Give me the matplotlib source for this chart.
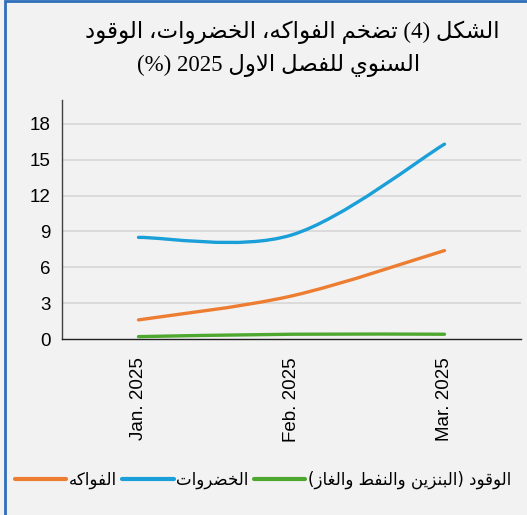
import re
import numpy as np
import matplotlib
matplotlib.use('Agg')
import matplotlib.pyplot as plt
from matplotlib.patches import Rectangle
from matplotlib.path import Path
from matplotlib.patches import PathPatch
from matplotlib.lines import Line2D

months = ['Jan. 2025', 'Feb. 2025', 'Mar. 2025']
fruits = [1.6, 3.6, 7.4]
vegetables = [8.5, 8.7, 16.3]
fuel = [0.2, 0.4, 0.4]
names = ['الفواكه', 'الخضروات', 'الوقود (البنزين والنفط والغاز)']
colors = ['#ED7D31', '#1A9FD9', '#4EA72E']
yticks = [0, 3, 6, 9, 12, 15, 18]
title1 = 'الشكل (4) تضخم الفواكه، الخضروات، الوقود'
title2 = 'السنوي للفصل الاول 2025 (%)'

# minimal arabic shaping: presentation forms + right-to-left order
FORMS = {
    'ا': ('\uFE8D', '\uFE8E'), 'د': ('\uFEA9', '\uFEAA'),
    'ر': ('\uFEAD', '\uFEAE'), 'ز': ('\uFEAF', '\uFEB0'),
    'و': ('\uFEED', '\uFEEE'),
    'ب': ('\uFE8F', '\uFE90', '\uFE91', '\uFE92'),
    'ت': ('\uFE95', '\uFE96', '\uFE97', '\uFE98'),
    'خ': ('\uFEA5', '\uFEA6', '\uFEA7', '\uFEA8'),
    'س': ('\uFEB1', '\uFEB2', '\uFEB3', '\uFEB4'),
    'ش': ('\uFEB5', '\uFEB6', '\uFEB7', '\uFEB8'),
    'ص': ('\uFEB9', '\uFEBA', '\uFEBB', '\uFEBC'),
    'ض': ('\uFEBD', '\uFEBE', '\uFEBF', '\uFEC0'),
    'ط': ('\uFEC1', '\uFEC2', '\uFEC3', '\uFEC4'),
    'غ': ('\uFECD', '\uFECE', '\uFECF', '\uFED0'),
    'ف': ('\uFED1', '\uFED2', '\uFED3', '\uFED4'),
    'ق': ('\uFED5', '\uFED6', '\uFED7', '\uFED8'),
    'ك': ('\uFED9', '\uFEDA', '\uFEDB', '\uFEDC'),
    'ل': ('\uFEDD', '\uFEDE', '\uFEDF', '\uFEE0'),
    'م': ('\uFEE1', '\uFEE2', '\uFEE3', '\uFEE4'),
    'ن': ('\uFEE5', '\uFEE6', '\uFEE7', '\uFEE8'),
    'ه': ('\uFEE9', '\uFEEA', '\uFEEB', '\uFEEC'),
    'ي': ('\uFEF1', '\uFEF2', '\uFEF3', '\uFEF4'),
}


def dual(c):
    return c in FORMS and len(FORMS[c]) == 4


def ar(text):
    out = []
    i = 0
    while i < len(text):
        c = text[i]
        if c not in FORMS:
            out.append(c)
            i += 1
            continue
        prev = text[i - 1] if i > 0 else ''
        jp = dual(prev)
        if c == 'ل' and i + 1 < len(text) and text[i + 1] == 'ا':
            out.append('\uFEFC' if jp else '\uFEFB')
            i += 2
            continue
        nxt = text[i + 1] if i + 1 < len(text) else ''
        jn = dual(c) and nxt in FORMS
        f = FORMS[c]
        if jp and jn:
            out.append(f[3])
        elif jp:
            out.append(f[1])
        elif jn:
            out.append(f[2])
        else:
            out.append(f[0])
        i += 1
    s = ''.join(out)[::-1]
    s = re.sub(r'[0-9]+', lambda m: m.group(0)[::-1], s)
    return s.translate(str.maketrans('()', ')('))


def smooth(ax, x, y, color):
    # excel-like smoothed line (catmull-rom bezier)
    pts = np.column_stack([x, y]).astype(float)
    n = len(pts)
    verts = [pts[0]]
    codes = [Path.MOVETO]
    for i in range(n - 1):
        p0 = pts[i - 1] if i > 0 else pts[i]
        p3 = pts[i + 2] if i + 2 < n else pts[i + 1]
        c1 = pts[i] + (pts[i + 1] - p0) / 6
        c2 = pts[i + 1] - (p3 - pts[i]) / 6
        verts += [c1, c2, pts[i + 1]]
        codes += [Path.CURVE4] * 3
    ax.add_patch(PathPatch(Path(verts, codes), fill=False, edgecolor=color,
                           lw=2.4, capstyle='round', zorder=3))


bg = '#F2F2F2'
fig = plt.figure(figsize=(5.27, 5.15), dpi=100, facecolor=bg)
ax = fig.add_axes([0.1176, 0.3417, 0.8710, 0.4643])
ax.set_facecolor(bg)

x = np.arange(len(months))
for vals, c in zip([fruits, vegetables, fuel], colors):
    smooth(ax, x, vals, c)

ax.set_xlim(-0.5, 2.5)
ax.set_ylim(0, 20)
ax.set_yticks(yticks)
ax.set_yticklabels([str(v) for v in yticks], fontsize=13.5, family='Liberation Sans')
ax.set_xticks(x)
ax.set_xticklabels(months, rotation=90, fontsize=13.5, family='Liberation Sans')
ax.tick_params(length=0, pad=8)
ax.tick_params(axis='x', pad=13)
for v in yticks[1:]:
    ax.axhline(v, color='#D9D9D9', lw=1.3, zorder=1)
for s in ['top', 'right']:
    ax.spines[s].set_visible(False)
ax.spines['left'].set_color('#404040')
ax.spines['bottom'].set_color('#202020')
ax.spines['left'].set_linewidth(1.0)
ax.spines['bottom'].set_linewidth(1.0)

fam = ['Liberation Serif', 'DejaVu Sans']
fig.text(0.555, 0.938, ar(title1), ha='center', va='center', fontsize=16.5, family=fam)
fig.text(0.528, 0.873, ar(title2), ha='center', va='center', fontsize=16.5, family=fam)

handles = [Line2D([0], [0], color=c, lw=3, solid_capstyle='round') for c in colors]
fig.legend(handles, [ar(n) for n in names], loc='center left',
           bbox_to_anchor=(0.028, 0.068), ncol=3, frameon=False,
           handlelength=3.1, handletextpad=0.15, columnspacing=0.3,
           prop={'family': 'DejaVu Sans', 'size': 12}, borderaxespad=0, borderpad=0)

fig.patches.append(Rectangle((5 / 527, -0.05), 1.1, 1.05 - 1.5 / 515, transform=fig.transFigure,
                             fill=False, edgecolor='#2F6EBA', lw=2, figure=fig))

fig.savefig('out.png', dpi=100, facecolor=bg)
